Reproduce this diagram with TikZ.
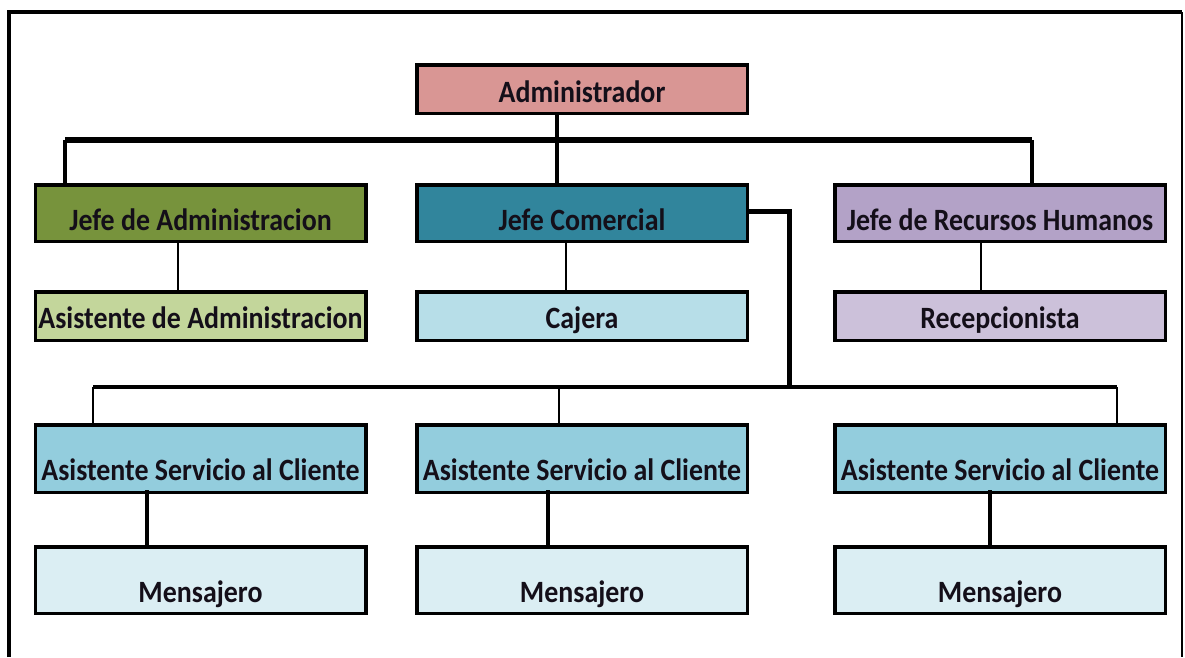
\documentclass[tikz,border=0pt]{standalone}
\usepackage{fontspec}
\setmainfont{Carlito}[FakeStretch=0.9]
\usetikzlibrary{calc}

\definecolor{adminpink}{RGB}{217,150,148}
\definecolor{olive}{RGB}{119,147,60}
\definecolor{palegreen}{RGB}{195,214,155}
\definecolor{teal}{RGB}{49,133,156}
\definecolor{paleblue}{RGB}{183,222,232}
\definecolor{lilac}{RGB}{179,162,199}
\definecolor{palelilac}{RGB}{204,193,218}
\definecolor{skyblue}{RGB}{147,205,221}
\definecolor{iceblue}{RGB}{219,238,243}
\definecolor{ink}{RGB}{20,15,25}

\tikzset{
  box/.style={draw=black, line width=3.5pt, inner sep=0pt, minimum width=330.5pt,
    font=\bfseries\fontsize{31}{33}\selectfont, text=ink, text depth=0pt},
  rowA/.style={minimum height=48.5pt, text height=26pt},
  rowB/.style={minimum height=56.5pt, text height=34pt},
  rowC/.style={minimum height=48.5pt, text height=24pt},
  rowD/.style={minimum height=67.5pt, text height=43pt},
  rowE/.style={minimum height=66.5pt, text height=44pt},
  busline/.style={line width=6.5pt},
  dropline/.style={line width=4.5pt},
  link/.style={line width=1.5pt},
  sublink/.style={line width=4pt},
}

\begin{document}
\begin{tikzpicture}[x=1pt,y=-1pt]
\useasboundingbox (0,0) rectangle (1185,657);

% outer frame (open at the bottom)
\coordinate (fTL) at (9,12);
\coordinate (fBL) at (9,657);
\coordinate (fTR) at (1182,12);
\coordinate (fBR) at (1182,657);
\draw[line width=4pt] (fBL) -- (fTL) -- (fTR);
\draw[line width=2.5pt] (fTR) -- (fBR);

% junction points of the two buses
\coordinate (busTop) at (582,140);
\coordinate (busL) at (93,387);
\coordinate (busR) at (1117,387);
\coordinate (jcDrop) at (789,387);

% boxes
\node[box,rowA,fill=adminpink] (admin) at (582,89) {Administrador};

\node[box,rowB,fill=olive] (JA) at (200.5,213) {Jefe de Administracion};
\node[box,rowB,fill=teal]  (JC) at (582,213)   {Jefe Comercial};
\node[box,rowB,fill=lilac] (JR) at (1000,213)  {Jefe de Recursos Humanos};

\node[box,rowC,fill=palegreen] (AsA) at (200.5,316) {Asistente de Administracion};
\node[box,rowC,fill=paleblue]  (Caj) at (582,316)   {Cajera};
\node[box,rowC,fill=palelilac] (Rec) at (1000,316)  {Recepcionista};

\node[box,rowD,fill=skyblue] (AS1) at (200.5,458.5) {Asistente Servicio al Cliente};
\node[box,rowD,fill=skyblue] (AS2) at (582,458.5)   {Asistente Servicio al Cliente};
\node[box,rowD,fill=skyblue] (AS3) at (1000,458.5)  {Asistente Servicio al Cliente};

\node[box,rowE,fill=iceblue] (M1) at (200.5,580) {Mensajero};
\node[box,rowE,fill=iceblue] (M2) at (582,580)   {Mensajero};
\node[box,rowE,fill=iceblue] (M3) at (1000,580)  {Mensajero};

% upper bus: Administrador to the three heads
\draw[busline] ([xshift=-135.5pt]JA.north |- busTop) -- ([xshift=32pt]JR.north |- busTop);
\draw[dropline] ([xshift=-25pt]admin.south) -- ([xshift=-25pt]JC.north);
\draw[dropline] ([xshift=-135.5pt]JA.north) -- ([xshift=-135.5pt]JA.north |- busTop);
\draw[dropline] ([xshift=32pt]JR.north) -- ([xshift=32pt]JR.north |- busTop);

% heads to their assistants
\draw[link] ([xshift=-22.5pt]JA.south) -- ([xshift=-22.5pt]AsA.north);
\draw[link] ([xshift=-16pt]JC.south) -- ([xshift=-16pt]Caj.north);
\draw[link] ([xshift=-19pt]JR.south) -- ([xshift=-19pt]Rec.north);

% Jefe Comercial to the customer service assistants
\draw[line width=5pt] ([yshift=2pt]JC.east) -| (jcDrop);
\draw[line width=3.5pt] (busL) -- (busR);
\coordinate (d1) at ([xshift=-107.5pt]AS1.north);
\coordinate (d2) at ([xshift=-23pt]AS2.north);
\coordinate (d3) at ([xshift=117pt]AS3.north);
\draw[link] (d1) -- (d1 |- busL);
\draw[link] (d2) -- (d2 |- busL);
\draw[link] (d3) -- (d3 |- busR);

% assistants to messengers
\draw[sublink] ([xshift=-53.5pt,yshift=4pt]AS1.south) -- ([xshift=-53.5pt,yshift=-2pt]M1.north);
\draw[sublink] ([xshift=-34pt,yshift=4pt]AS2.south) -- ([xshift=-34pt,yshift=-2pt]M2.north);
\draw[sublink] ([xshift=-10pt,yshift=4pt]AS3.south) -- ([xshift=-10pt,yshift=-2pt]M3.north);
\end{tikzpicture}
\end{document}
